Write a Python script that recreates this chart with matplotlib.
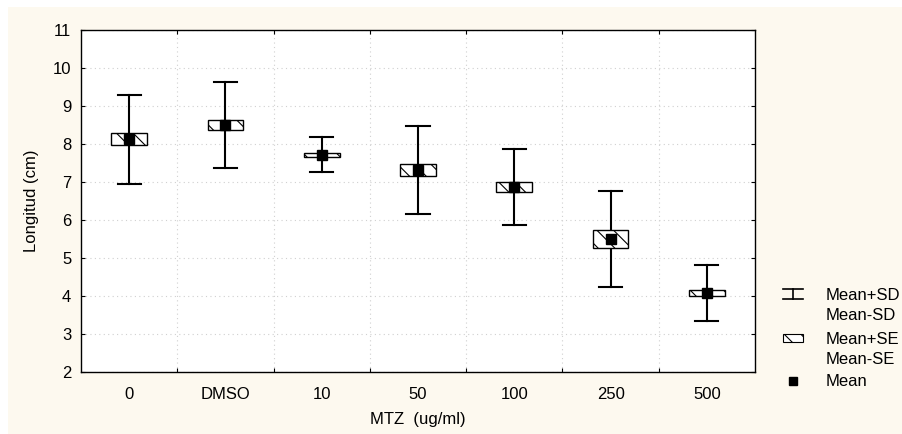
import matplotlib.pyplot as plt
from matplotlib.patches import Rectangle
from matplotlib.lines import Line2D
import numpy as np

plt.rcParams['font.family'] = ['Liberation Sans', 'DejaVu Sans']
plt.rcParams['hatch.linewidth'] = 0.8

# --- data ---
groups = ['0', 'DMSO', '10', '50', '100', '250', '500']
means = [8.13, 8.50, 7.72, 7.32, 6.87, 5.50, 4.08]
se = [0.165, 0.14, 0.05, 0.155, 0.135, 0.235, 0.08]
sd = [1.17, 1.12, 0.47, 1.15, 1.00, 1.27, 0.725]

x = np.arange(len(groups))
means = np.array(means)
se = np.array(se)
sd = np.array(sd)

FS = 12
W, H = 903, 434
fig = plt.figure(figsize=(W / 100, H / 100), dpi=100)
fig.patch.set_facecolor('white')
fig.add_artist(Rectangle((8 / W, 0), 1 - 8 / W, 1 - 7 / H, transform=fig.transFigure,
                         facecolor='#fdf9ef', edgecolor='none', zorder=-10))

ax = fig.add_axes([81 / W, 1 - 372 / H, (755 - 81) / W, (372 - 30) / H])
ax.set_facecolor('white')

box_w = 0.37
cap_w = 0.24
for xi, m, s, d in zip(x, means, se, sd):
    ax.plot([xi, xi], [m - d, m + d], color='black', lw=1.5, zorder=2)
    ax.plot([xi - cap_w / 2, xi + cap_w / 2], [m + d, m + d], color='black', lw=1.5, zorder=2)
    ax.plot([xi - cap_w / 2, xi + cap_w / 2], [m - d, m - d], color='black', lw=1.5, zorder=2)
    ax.add_patch(Rectangle((xi - box_w / 2, m - s), box_w, 2 * s, facecolor='white',
                           edgecolor='black', hatch='\\\\', lw=1.0, zorder=3))
ax.plot(x, means, 's', color='black', ms=6.5, zorder=4)

ax.set_xlim(-0.5, len(groups) - 0.5)
ax.set_ylim(2, 11)
ax.set_yticks(range(2, 12))
ax.set_xticks(x)
ax.set_xticklabels(groups)
ax.set_xticks(x[:-1] + 0.5, minor=True)
ax.tick_params(axis='x', which='major', length=0, pad=11, labelsize=FS)
ax.tick_params(axis='x', which='minor', direction='in', length=3, top=True, width=0.8)
ax.tick_params(axis='y', direction='in', length=3, right=True, pad=7, labelsize=FS, width=0.8)
ax.grid(True, axis='y', linestyle=(0, (1, 3)), color='#d0d0d0', lw=0.8)
ax.grid(True, axis='x', which='minor', linestyle=(0, (1, 3)), color='#d0d0d0', lw=0.8)
ax.set_axisbelow(True)
for sp in ax.spines.values():
    sp.set_linewidth(1.0)

ax.set_xlabel('MTZ  (ug/ml)', fontsize=FS, labelpad=7)
ax.set_ylabel('Longitud (cm)', fontsize=FS, labelpad=10)

# --- legend drawn outside on the right ---
def px(xp, yp):
    return xp / W, 1 - yp / H

tf = fig.transFigure
sx0, sx1 = 783, 803
fig.add_artist(Line2D(*zip(px(sx0, 289), px(sx1, 289)), color='black', lw=1.2, transform=tf))
fig.add_artist(Line2D(*zip(px(sx0, 299), px(sx1, 299)), color='black', lw=1.2, transform=tf))
fig.add_artist(Line2D(*zip(px(793, 289), px(793, 299)), color='black', lw=1.2, transform=tf))
fig.text(*px(826, 296), 'Mean+SD', fontsize=FS, va='center', ha='left')
fig.text(*px(826, 316), 'Mean-SD', fontsize=FS, va='center', ha='left')

bx, by = px(sx0, 342)
fig.add_artist(Rectangle((bx, by), (sx1 - sx0) / W, 8 / H, transform=tf, facecolor='white',
                         edgecolor='black', hatch='\\\\', lw=0.8))
fig.text(*px(826, 340), 'Mean+SE', fontsize=FS, va='center', ha='left')
fig.text(*px(826, 359), 'Mean-SE', fontsize=FS, va='center', ha='left')

fig.add_artist(Line2D([793 / W], [1 - 381 / H], marker='s', color='black', ms=5.5, transform=tf))
fig.text(*px(826, 382), 'Mean', fontsize=FS, va='center', ha='left')

fig.savefig('out.png', dpi=100)
